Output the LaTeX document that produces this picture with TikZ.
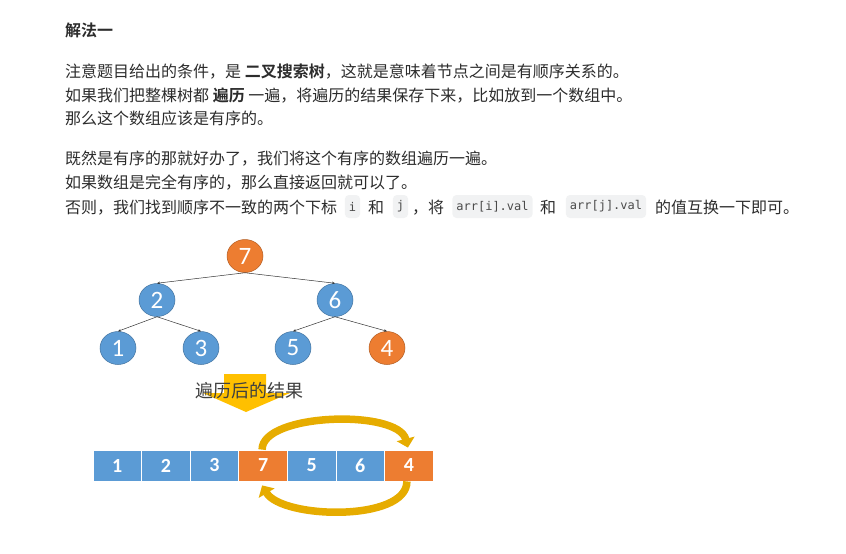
\documentclass[tikz,border=0pt]{standalone}
\usepackage{fontspec}
\setmainfont{Noto Sans CJK SC}[BoldFont={Noto Sans CJK SC Bold}]
\newfontfamily\numfont{Carlito}
\newfontfamily\codefont{DejaVu Sans Mono}
\usetikzlibrary{shapes.geometric,arrows.meta,positioning}
\definecolor{nodeblue}{HTML}{5B9BD5}
\definecolor{nodeorange}{HTML}{ED7D31}
\definecolor{arrowgold}{HTML}{FFC000}
\definecolor{curvegold}{HTML}{E6AC00}
\definecolor{bodytext}{HTML}{2C2C2C}
\definecolor{codebg}{HTML}{F1F2F3}
\definecolor{codetext}{HTML}{4A4A4A}
\tikzset{
  textline/.style={anchor=base west, inner sep=0pt, text=bodytext, font=\fontsize{16}{20}\selectfont},
  codebox/.style={fill=codebg, rounded corners=4pt, inner xsep=4pt, inner ysep=0pt, minimum height=23pt, text=codetext, font=\codefont\fontsize{12}{14}\selectfont},
  treenode/.style={ellipse, minimum width=36pt, minimum height=33pt, inner sep=0pt, draw=#1!75!black, line width=0.5pt, fill=#1, text=white, font=\numfont\fontsize{25}{25}\selectfont},
  treeedge/.style={-{Stealth[length=3pt,width=2.5pt]}, line width=0.5pt, draw=black!80},
  arrcell/.style={minimum width=48.6pt, minimum height=31pt, inner sep=0pt, fill=#1, draw=white, line width=0.8pt, text=white, font=\numfont\bfseries\fontsize{20}{20}\selectfont},
  swaparrow/.style={line width=7.5pt, draw=curvegold, -{Triangle[length=9pt,width=18pt]}}
}
\begin{document}
\begin{tikzpicture}[x=1pt,y=-1pt]
    \useasboundingbox (0,0) rectangle (846,554);

    % Text
    \node[textline, font=\bfseries\fontsize{16}{20}\selectfont] (title) at (65,36) {解法一};
    \node[textline] (l1) at (65,77) {注意题目给出的条件，是 \textbf{二叉搜索树}，这就是意味着节点之间是有顺序关系的。};
    \node[textline] (l2) at (65,101) {如果我们把整棵树都 \textbf{遍历} 一遍，将遍历的结果保存下来，比如放到一个数组中。};
    \node[textline] (l3) at (65,124) {那么这个数组应该是有序的。};
    \node[textline] (l4) at (65,164) {既然是有序的那就好办了，我们将这个有序的数组遍历一遍。};
    \node[textline] (l5) at (65,188) {如果数组是完全有序的，那么直接返回就可以了。};
    \node[textline] (l6a) at (65,213) {否则，我们找到顺序不一致的两个下标};
    \node[codebox] (ci) at (352.5,206.5) {i};
    \node[textline] (l6b) at (368,213) {和};
    \node[codebox] (cj) at (400.5,206.5) {j};
    \node[textline] (l6c) at (412,213) {，将};
    \node[codebox] (cai) at (492.5,206.5) {arr[i].val};
    \node[textline] (l6d) at (540,213) {和};
    \node[codebox] (caj) at (606,206.5) {arr[j].val};
    \node[textline] (l6e) at (655,213) {的值互换一下即可。};

    % Tree
    \node[treenode=nodeorange] (n7) at (245,256) {7};
    \node[treenode=nodeblue] (n2) at (157,300) {2};
    \node[treenode=nodeblue] (n6) at (335,300) {6};
    \node[treenode=nodeblue] (n1) at (118,348) {1};
    \node[treenode=nodeblue] (n3) at (201,348) {3};
    \node[treenode=nodeblue] (n5) at (293,348) {5};
    \node[treenode=nodeorange] (n4) at (387,348) {4};
    \draw[treeedge] (n7.south) -- (n2.north);
    \draw[treeedge] (n7.south) -- (n6.north);
    \draw[treeedge] (n2.south) -- (n1.north);
    \draw[treeedge] (n2.south) -- (n3.north);
    \draw[treeedge] (n6.south) -- (n5.north);
    \draw[treeedge] (n6.south) -- (n4.north);

    % Down arrow with label
    \fill[arrowgold] (224,374) -- (266,374) -- (266,393) -- (290,393) -- (246,412) -- (203,393) -- (224,393) -- cycle;
    \node[font=\fontsize{18}{18}\selectfont, text=black!75, inner sep=0pt] (result) at (249,391) {遍历后的结果};

    % Array
    \foreach \v/\c [count=\i from 0] in {1/nodeblue,2/nodeblue,3/nodeblue,7/nodeorange,5/nodeblue,6/nodeblue,4/nodeorange}
        \node[arrcell=\c] (a\i) at ({117.3+48.6*\i},465.5) {\v};

    % Swap arrows
    \draw[swaparrow] ([xshift=-1pt]a3.north) .. controls (262,413) and (398,409) .. ([xshift=-1pt,yshift=2pt]a6.north);
    \draw[swaparrow] ([xshift=-2pt]a6.south) .. controls (407,522) and (282,519) .. ([xshift=-1pt,yshift=-4pt]a3.south);
\end{tikzpicture}
\end{document}
